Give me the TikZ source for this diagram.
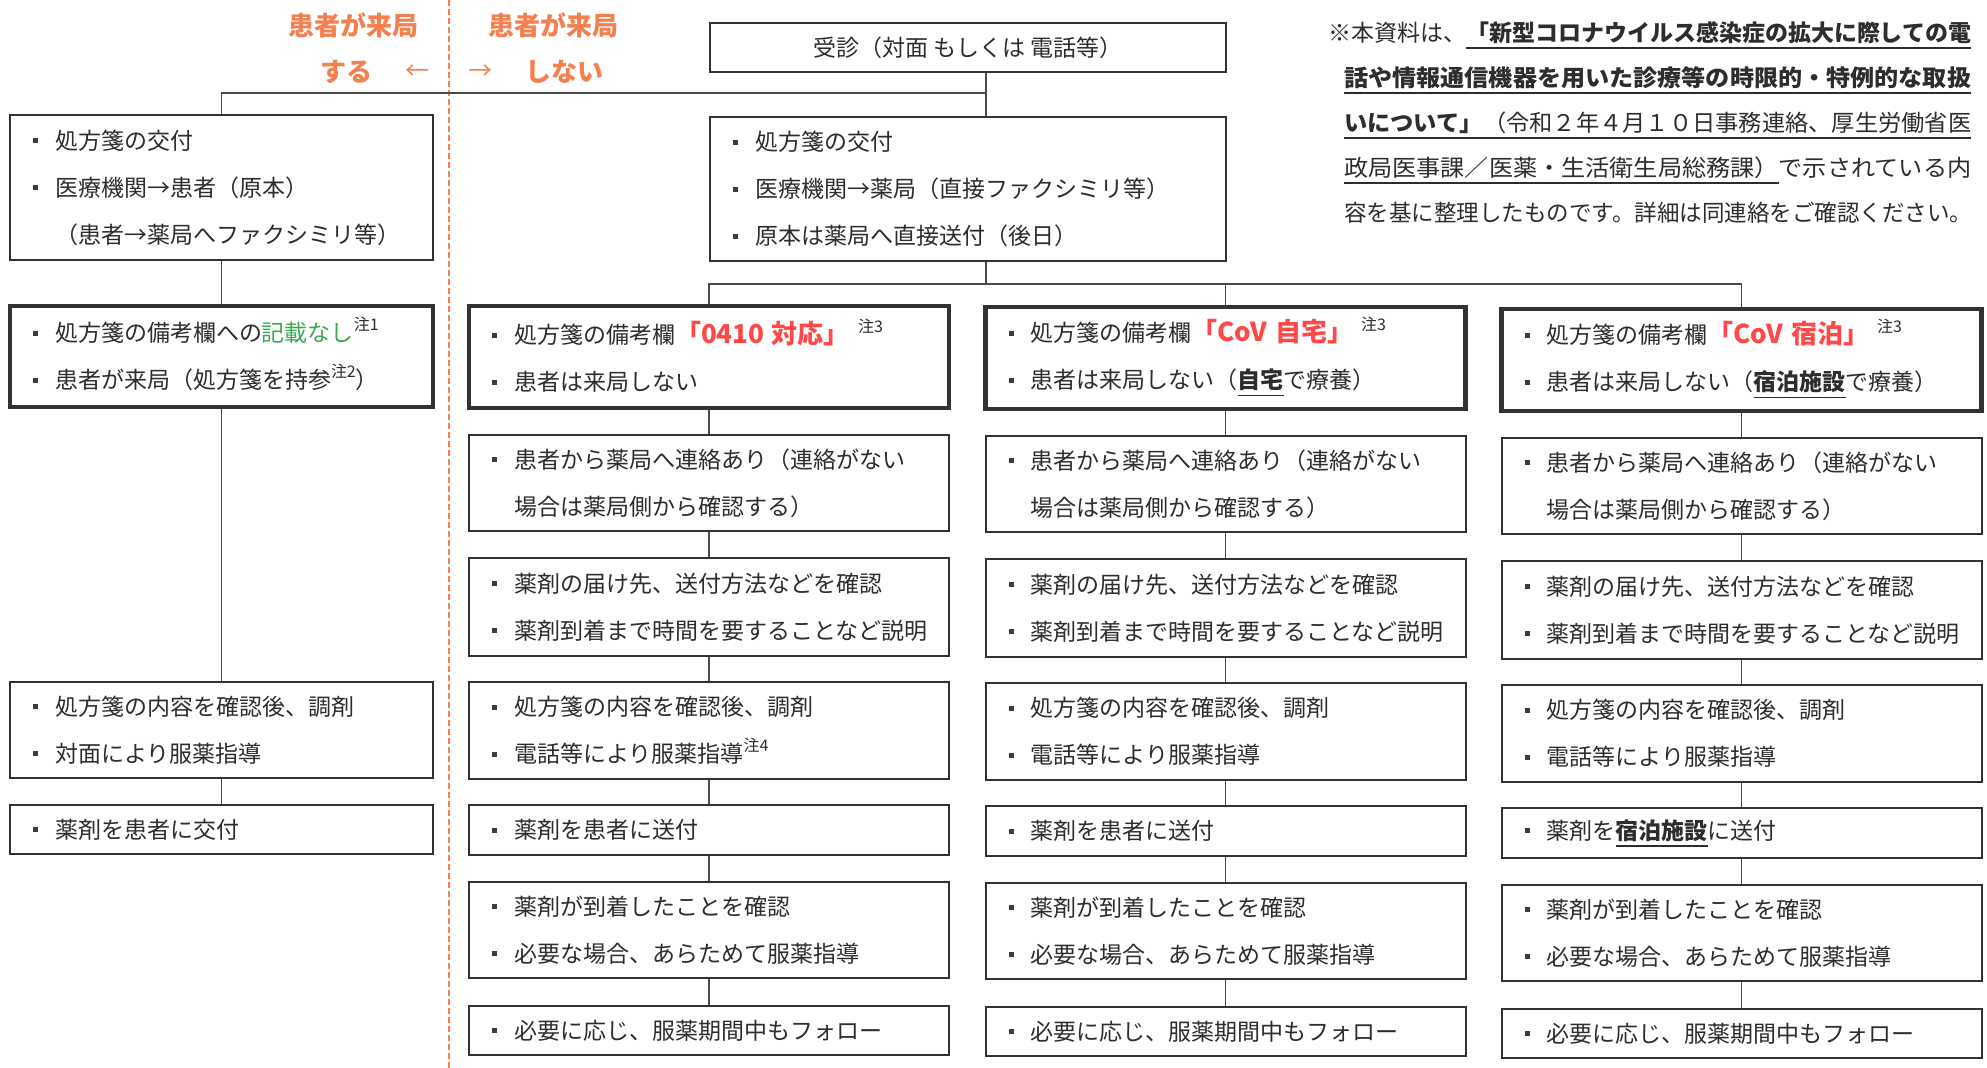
\documentclass[tikz,border=0pt]{standalone}
\usepackage{fontspec}
\setmainfont{Noto Sans CJK JP}
\usepackage{graphicx}
\definecolor{txt}{RGB}{45,45,45}
\definecolor{bord}{RGB}{50,50,50}
\definecolor{conn}{RGB}{75,75,75}
\definecolor{org}{RGB}{244,128,80}
\definecolor{redt}{RGB}{255,72,72}
\definecolor{grn}{RGB}{60,168,80}
\definecolor{bulc}{RGB}{60,60,60}
\newsavebox\ulbox
\newcommand\ulx[1]{\sbox\ulbox{#1}\rlap{\color{txt}\rule[-7.5pt]{\wd\ulbox}{1.7pt}}\usebox\ulbox}
\newcommand\bl{\makebox[22pt][l]{\raisebox{6pt}{\color{bulc}\rule{5pt}{5pt}}}}
\newcommand\ind{\hspace*{22pt}}
\newcommand\nt[1]{\raisebox{11pt}[0pt][0pt]{\fontsize{16}{16}\selectfont 注#1}}
\newcommand\redq[1]{{\color{redt}\fontsize{26}{47}\selectfont\bfseries #1}}
\begin{document}
\begin{tikzpicture}[x=1pt,y=-1pt,
  every node/.style={text=txt},
  bx/.style={draw=bord, line width=2pt, inner xsep=23pt, inner ysep=0pt, align=left, font=\fontsize{23}{47}\selectfont},
  thickbx/.style={bx, line width=4.5pt},
  colw/.style={minimum width=480pt, text width=434pt},
  leftw/.style={minimum width=423pt, text width=377pt},
  link/.style={draw=conn, line width=1.8pt},
  orglab/.style={text=org, font=\fontsize{26}{26}\selectfont\bfseries, inner sep=0pt},
  orgarr/.style={text=org, font=\fontsize{24}{24}\selectfont, inner sep=0pt},
  note/.style={anchor=base west, inner sep=0pt, font=\fontsize{23}{23}\selectfont}
]
\fill[white] (0,0) rectangle (1987,1068);
\useasboundingbox (0,0) rectangle (1987,1068);

% divider
\draw[org, line width=1.6pt, dash pattern=on 6pt off 3pt] (449,0) -- (449,1068);

% orange labels
\node[orglab] (o1) at (353,25) {患者が来局};
\node[orglab] (o2) at (346,72) {する};
\node[orgarr] (o3) at (417,72) {←};
\node[orgarr] (o4) at (480,72) {→};
\node[orglab] (o5) at (553,25) {患者が来局};
\node[orglab] (o6) at (564,72) {しない};

% top
\node[bx, minimum width=516pt, minimum height=49pt, align=center, inner xsep=0pt] (jushin) at (968,47.5) {受診（対面 もしくは 電話等）};
\node[bx, minimum width=516pt, text width=470pt, minimum height=144pt] (R1) at (968,189)
 {\bl 処方箋の交付\\
  \bl 医療機関→薬局（直接ファクシミリ等）\\
  \bl 原本は薬局へ直接送付（後日）};

% left column
\node[bx, leftw, minimum height=145pt] (L1) at (221.5,187.5)
 {\bl 処方箋の交付\\
  \bl 医療機関→患者（原本）\\
  \ind（患者→薬局へファクシミリ等）};
\node[thickbx, leftw, minimum height=101pt] (L2) at (221.5,356.5)
 {\bl 処方箋の備考欄への{\color{grn}記載なし}\nt{1}\\
  \bl 患者が来局（処方箋を持参\nt{2}）};
\node[bx, leftw, minimum height=96pt] (L3) at (221.5,730)
 {\bl 処方箋の内容を確認後、調剤\\
  \bl 対面により服薬指導};
\node[bx, leftw, minimum height=49pt] (L4) at (221.5,829.5)
 {\bl 薬剤を患者に交付};

% row A
\node[thickbx, colw, minimum height=102pt] (A1) at (709,357)
 {\bl 処方箋の備考欄\redq{「0410 対応」}\hspace{8pt}\nt{3}\\
  \bl 患者は来局しない};
\node[thickbx, colw, minimum height=102pt] (A2) at (1225.5,358)
 {\bl 処方箋の備考欄\redq{「CoV 自宅」}\hspace{8pt}\nt{3}\\
  \bl 患者は来局しない（\ulx{\bfseries 自宅}で療養）};
\node[thickbx, colw, minimum height=102pt] (A3) at (1741.5,360)
 {\bl 処方箋の備考欄\redq{「CoV 宿泊」}\hspace{8pt}\nt{3}\\
  \bl 患者は来局しない（\ulx{\bfseries 宿泊施設}で療養）};

% row B
\node[bx, colw, minimum height=96pt] (B1) at (709,483)
 {\bl 患者から薬局へ連絡あり（連絡がない\\ \ind 場合は薬局側から確認する）};
\node[bx, colw, minimum height=96pt] (B2) at (1225.5,484)
 {\bl 患者から薬局へ連絡あり（連絡がない\\ \ind 場合は薬局側から確認する）};
\node[bx, colw, minimum height=96pt] (B3) at (1741.5,486)
 {\bl 患者から薬局へ連絡あり（連絡がない\\ \ind 場合は薬局側から確認する）};

% row C
\node[bx, colw, minimum height=98pt] (C1) at (709,607)
 {\bl 薬剤の届け先、送付方法などを確認\\ \bl 薬剤到着まで時間を要することなど説明};
\node[bx, colw, minimum height=98pt] (C2) at (1225.5,608)
 {\bl 薬剤の届け先、送付方法などを確認\\ \bl 薬剤到着まで時間を要することなど説明};
\node[bx, colw, minimum height=98pt] (C3) at (1741.5,610)
 {\bl 薬剤の届け先、送付方法などを確認\\ \bl 薬剤到着まで時間を要することなど説明};

% row D
\node[bx, colw, minimum height=97pt] (D1) at (709,730.5)
 {\bl 処方箋の内容を確認後、調剤\\ \bl 電話等により服薬指導\nt{4}};
\node[bx, colw, minimum height=97pt] (D2) at (1225.5,731.5)
 {\bl 処方箋の内容を確認後、調剤\\ \bl 電話等により服薬指導};
\node[bx, colw, minimum height=97pt] (D3) at (1741.5,733.5)
 {\bl 処方箋の内容を確認後、調剤\\ \bl 電話等により服薬指導};

% row E
\node[bx, colw, minimum height=50pt] (E1) at (709,830)
 {\bl 薬剤を患者に送付};
\node[bx, colw, minimum height=50pt] (E2) at (1225.5,831)
 {\bl 薬剤を患者に送付};
\node[bx, colw, minimum height=50pt] (E3) at (1741.5,833)
 {\bl 薬剤を\ulx{\bfseries 宿泊施設}に送付};

% row F
\node[bx, colw, minimum height=96pt] (F1) at (709,930)
 {\bl 薬剤が到着したことを確認\\ \bl 必要な場合、あらためて服薬指導};
\node[bx, colw, minimum height=96pt] (F2) at (1225.5,931)
 {\bl 薬剤が到着したことを確認\\ \bl 必要な場合、あらためて服薬指導};
\node[bx, colw, minimum height=96pt] (F3) at (1741.5,933)
 {\bl 薬剤が到着したことを確認\\ \bl 必要な場合、あらためて服薬指導};

% row G
\node[bx, colw, minimum height=49pt] (G1) at (709,1030.5)
 {\bl 必要に応じ、服薬期間中もフォロー};
\node[bx, colw, minimum height=49pt] (G2) at (1225.5,1031.5)
 {\bl 必要に応じ、服薬期間中もフォロー};
\node[bx, colw, minimum height=49pt] (G3) at (1741.5,1033.5)
 {\bl 必要に応じ、服薬期間中もフォロー};

% connectors
\coordinate (xr) at (986,0);
\coordinate (j1) at (986,93);
\coordinate (j2) at (986,284);
\draw[link] (jushin.south -| xr) -- (R1.north -| xr);
\draw[link] (L1.north) |- (j1);
\draw[link] (R1.south -| xr) -- (j2);
\draw[link] (A1.north) |- (A3.north |- j2) -- (A3.north);
\draw[link] (A2.north) -- (A2.north |- j2);
\draw[link] (L1.south) -- (L2.north);
\draw[link] (L2.south) -- (L3.north);
\draw[link] (L3.south) -- (L4.north);
\foreach \c in {1,2,3} {
  \draw[link] (A\c.south) -- (B\c.north);
  \draw[link] (B\c.south) -- (C\c.north);
  \draw[link] (C\c.south) -- (D\c.north);
  \draw[link] (D\c.south) -- (E\c.north);
  \draw[link] (E\c.south) -- (F\c.north);
  \draw[link] (F\c.south) -- (G\c.north);
}

% note text
\node[note] (n1) at (1328,41.5) {\resizebox{643pt}{\height}{※本資料は、\ulx{\bfseries 「新型コロナウイルス感染症の拡大に際しての電}}};
\node[note] (n2) at (1344,86.5) {\resizebox{627pt}{\height}{\ulx{\bfseries 話や情報通信機器を用いた診療等の時限的・特例的な取扱}}};
\node[note] (n3) at (1344,131.5) {\resizebox{627pt}{\height}{\ulx{{\bfseries いについて」}（令和２年４月１０日事務連絡、厚生労働省医}}};
\node[note] (n4) at (1344,176.5) {\resizebox{627pt}{\height}{\ulx{政局医事課／医薬・生活衛生局総務課）}で示されている内}};
\node[note] (n5) at (1344,221.5) {\resizebox{628pt}{\height}{容を基に整理したものです。詳細は同連絡をご確認ください。}};
\end{tikzpicture}
\end{document}
